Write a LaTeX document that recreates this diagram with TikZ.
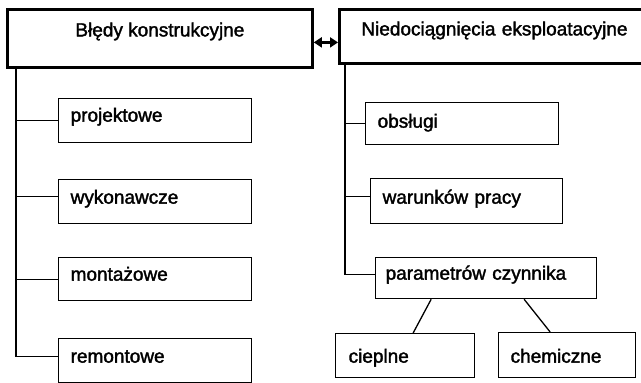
\documentclass[tikz,border=0pt]{standalone}
\usepackage{fontspec}
\newfontfamily\lab{Liberation Sans}[FakeBold=1.8]
\usetikzlibrary{arrows.meta}
\begin{document}
\begin{tikzpicture}[x=1pt,y=-1pt,
  every node/.style={font=\lab\fontsize{19pt}{22pt}\selectfont},
  bigbox/.style={draw, line width=2.8pt, anchor=north west, inner ysep=0pt},
  sbox/.style={draw, line width=1.3pt, anchor=north west, inner ysep=0pt, inner xsep=12pt, align=left},
  conn/.style={line width=1.3pt},
  dbl/.style={line width=2.2pt, {Triangle[length=8pt,width=10pt]}-{Triangle[length=8pt,width=10pt]}}]
\useasboundingbox (0,0) rectangle (641,383);
% top boxes
\node[bigbox, minimum width=305pt, text height=27pt, text depth=31pt, inner xsep=0pt] (A) at (6,8) {Błędy konstrukcyjne};
\node[bigbox, inner xsep=22pt, text width=264pt, align=left, text height=26pt, text depth=28pt] (B) at (338,8) {\mbox{Niedociągnięcia eksploatacyjne}};
\draw[dbl] ([yshift=-4pt]A.east) -- ([yshift=-4pt]A.east -| B.west);
% left column
\node[sbox, text width=169pt, text height=23pt, text depth=21pt] (p1) at (58,98) {projektowe};
\node[sbox, text width=169pt, text height=24pt, text depth=20pt] (p2) at (58,179) {wykonawcze};
\node[sbox, text width=169pt, text height=23pt, text depth=20pt] (p3) at (58,257) {montażowe};
\node[sbox, text width=169pt, text height=24pt, text depth=20pt] (p4) at (58,338) {remontowe};
\coordinate (LT) at ([xshift=10pt]A.south west);
\draw[conn] (LT) |- ([yshift=4pt]p4.west);
\draw[conn] (LT |- p1.west) -- (p1.west);
\draw[conn] ([yshift=5pt]p2.west -| LT) -- ([yshift=5pt]p2.west);
\draw[conn] (LT |- p3.west) -- (p3.west);
% right column
\node[sbox, text width=169pt, text height=25pt, text depth=17pt] (o1) at (365,102) {obsługi};
\node[sbox, text width=168pt, text height=25pt, text depth=20pt] (o2) at (370,178) {warunków pracy};
\node[sbox, inner xsep=10pt, text width=201pt, text height=22pt, text depth=19pt] (o3) at (375,257) {parametrów czynnika};
\node[sbox, inner xsep=13pt, text width=113pt, text height=29pt, text depth=15pt] (c1) at (335,333) {cieplne};
\node[sbox, text width=113pt, text height=30pt, text depth=15pt] (c2) at (498,332) {chemiczne};
\coordinate (RT) at ([xshift=7pt]B.south west);
\draw[conn] (RT) |- ([yshift=4pt]o3.west);
\draw[conn] (RT |- o1.west) -- (o1.west);
\draw[conn] ([yshift=5pt]o2.west -| RT) -- ([yshift=5pt]o2.west);
\draw[conn] ([xshift=-55pt]o3.south) -- ([xshift=8pt]c1.north);
\draw[conn] ([xshift=38pt]o3.south) -- ([xshift=-17pt]c2.north);
\end{tikzpicture}
\end{document}
